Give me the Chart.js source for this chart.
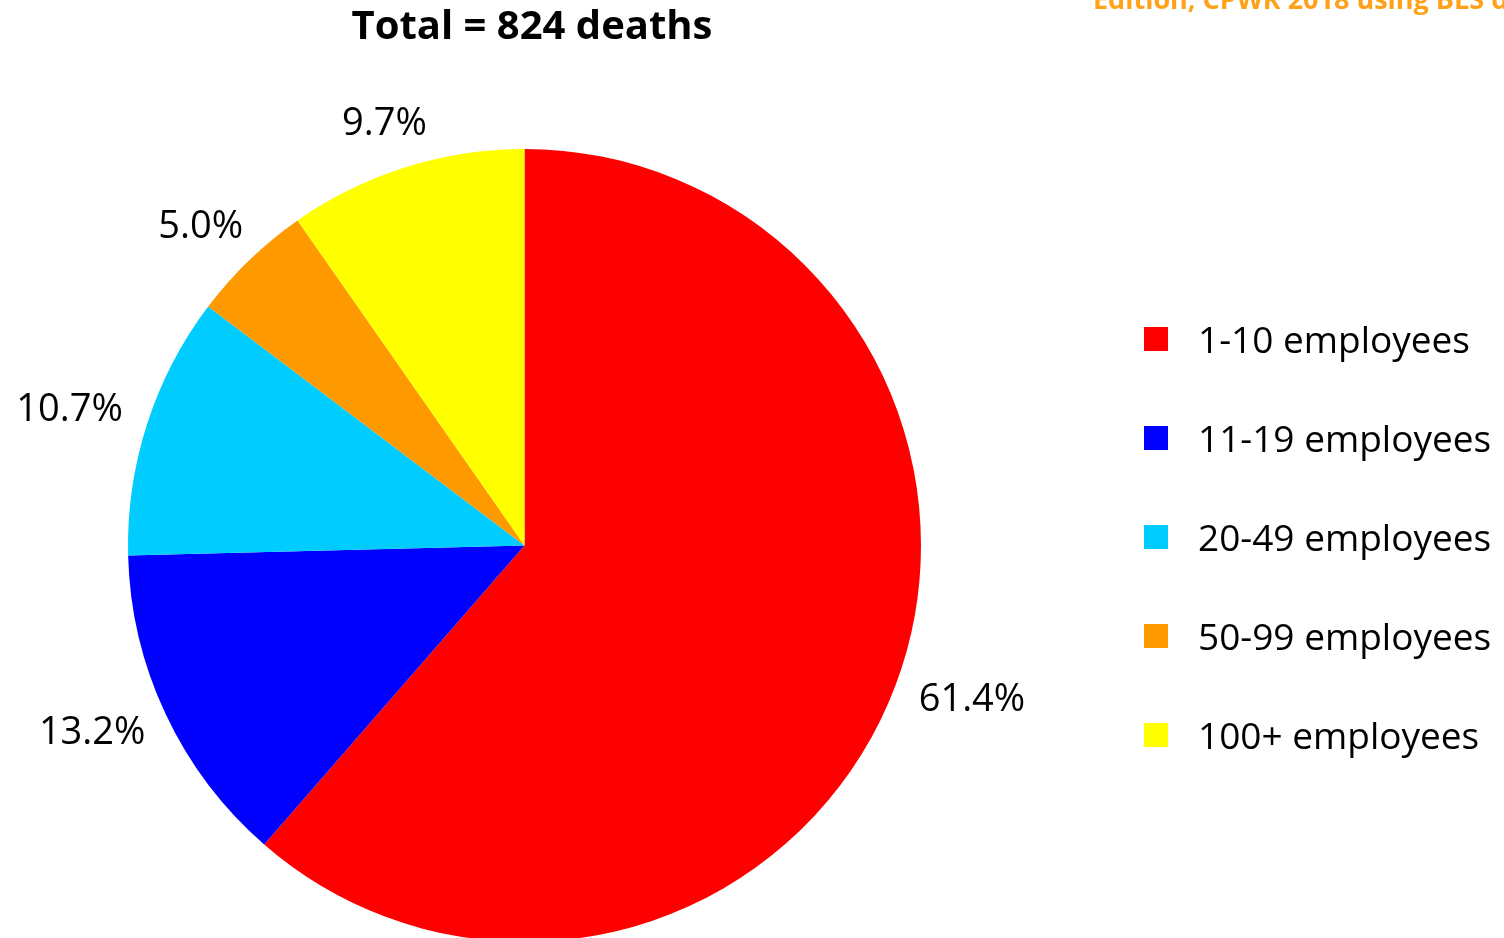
<!DOCTYPE html>
<html>
<head>
<meta charset="utf-8">
<script src="https://cdn.jsdelivr.net/npm/chart.js@4.4.0/dist/chart.umd.min.js"></script>
<style>
  html, body { margin:0; padding:0; background:#fff; overflow:hidden; width:1504px; height:938px; }
  #wrap { position:relative; width:1504px; height:938px; overflow:hidden; }
  canvas { position:absolute; left:0; top:0; }
  #title { position:absolute; left:282px; width:500px; top:-4px; text-align:center;
           font-family:"Open Sans", sans-serif; font-weight:bold; font-size:40px; color:#000; }
  #source { position:absolute; left:1093px; top:-20px; white-space:nowrap;
            font-family:"Open Sans", sans-serif; font-weight:bold; font-size:27px; color:#FFA21A; }
  #legend { position:absolute; left:1144px; top:289px; font-family:"Open Sans", sans-serif; font-size:37px; color:#000; }
  .row { height:99px; display:flex; align-items:center; white-space:nowrap; }
  .sw { width:24px; height:24px; margin-right:30px; flex:none; }
</style>
</head>
<body>
<div id="wrap">
  <canvas id="pie" width="1504" height="960"></canvas>
  <div id="title">Total = 824 deaths</div>
  <div id="source">Edition, CPWR 2018 using BLS data</div>
  <div id="legend"></div>
</div>
<script>
// data
const categories = ["1-10 employees","11-19 employees","20-49 employees","50-99 employees","100+ employees"];
const shares = [61.4, 13.2, 10.7, 5.0, 9.7];
const colors = ["#FF0000","#0000FF","#00CCFF","#FF9900","#FFFF00"];

// legend
const legend = document.getElementById("legend");
categories.forEach((c, i) => {
    const row = document.createElement("div");
    row.className = "row";
    row.innerHTML = `<div class="sw" style="background:${colors[i]}"></div><span>${c}</span>`;
    legend.appendChild(row);
});

// percent labels outside the slices
const outsideLabels = {
    id: "outsideLabels",
    afterDatasetsDraw(chart) {
        const ctx = chart.ctx;
        const meta = chart.getDatasetMeta(0);
        ctx.save();
        ctx.font = '38px "Open Sans", sans-serif';
        ctx.fillStyle = "#000";
        ctx.textAlign = "center";
        ctx.textBaseline = "middle";
        meta.data.forEach((arc, i) => {
            const p = arc.getProps(["x","y","startAngle","endAngle","outerRadius"], true);
            const mid = (p.startAngle + p.endAngle) / 2;
            const dx = Math.cos(mid), dy = Math.sin(mid);
            const txt = shares[i].toFixed(1) + "%";
            const w = ctx.measureText(txt).width, h = 34;
            const d = p.outerRadius + 28;
            const x = p.x + dx * d + dx * w / 2;
            const y = p.y + dy * d + dy * h / 2;
            ctx.fillText(txt, x, y);
        });
        ctx.restore();
    }
};

new Chart(document.getElementById("pie"), {
    type: "pie",
    data: {
        labels: categories,
        datasets: [{
            data: shares,
            backgroundColor: colors,
            borderWidth: 0
        }]
    },
    options: {
        responsive: false,
        animation: false,
        layout: { padding: { left: 128, top: 149, right: 583, bottom: 18 } },
        plugins: {
            legend: { display: false },
            tooltip: { enabled: false }
        }
    },
    plugins: [outsideLabels]
});
</script>
</body>
</html>
